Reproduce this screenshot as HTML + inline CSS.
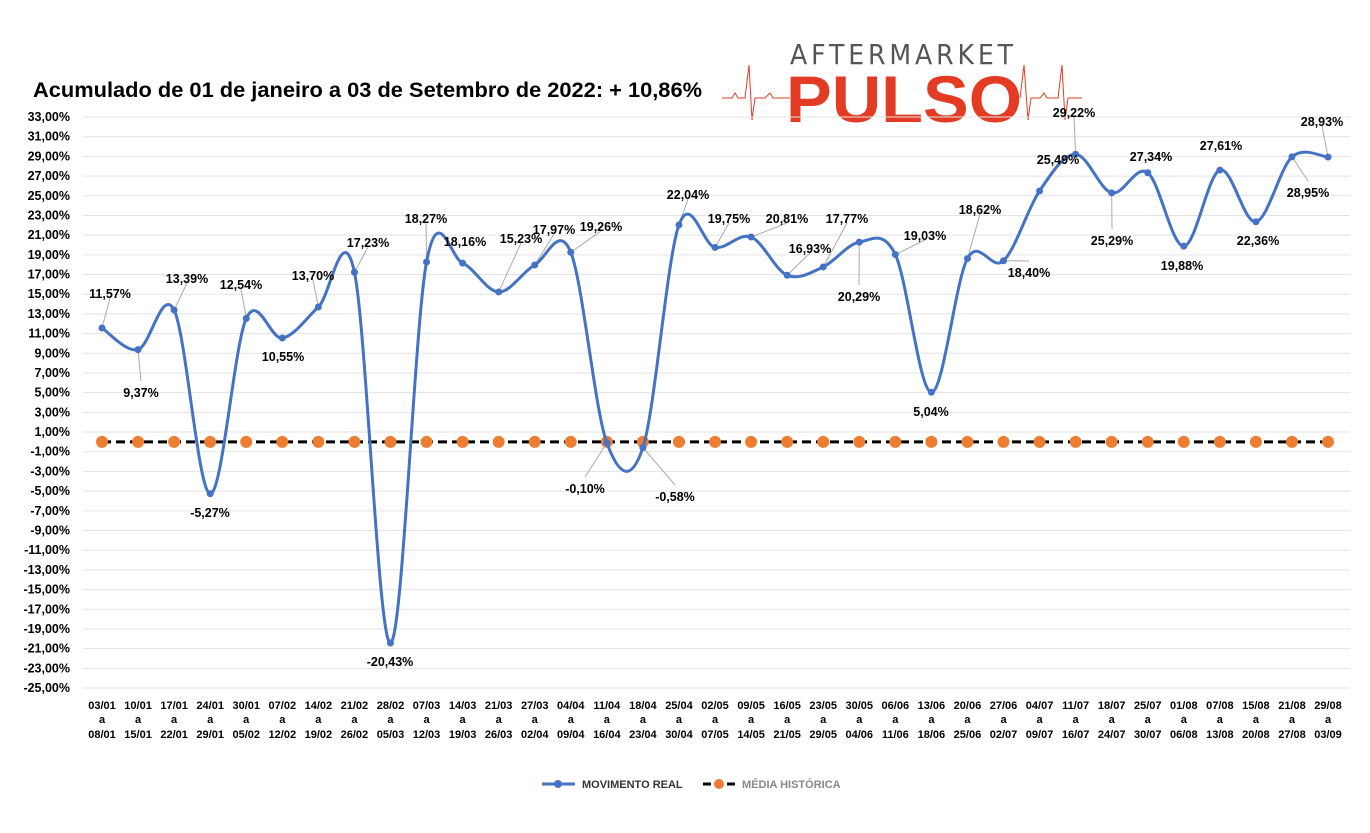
<!DOCTYPE html>
<html><head><meta charset="utf-8"><style>
body{margin:0;background:#fff;width:1370px;height:828px;overflow:hidden;font-family:"Liberation Sans",sans-serif}
</style></head><body>
<svg id="s" width="1370" height="828" xmlns="http://www.w3.org/2000/svg" font-family="Liberation Sans, sans-serif">
<rect width="1370" height="828" fill="#fff"/>
<text x="33" y="97" font-size="21" font-weight="bold" fill="#000" textLength="669" lengthAdjust="spacingAndGlyphs">Acumulado de 01 de janeiro a 03 de Setembro de 2022: + 10,86%</text>
<g>
<text x="790" y="64" font-size="28" fill="#555" textLength="223" lengthAdjust="spacing" font-family="DejaVu Sans Condensed, Liberation Sans, sans-serif">AFTERMARKET</text>
<polyline fill="none" stroke="#e33b24" stroke-width="1" points="722,98 732,98 735,93 738,98 745,98 749,65 752,120 755,98 765,98 770,93 773,98 790,98"/>
<polyline fill="none" stroke="#e33b24" stroke-width="1" points="1020,98 1024,65 1028,120 1031,98 1040,98 1044,93 1047,98 1058,98 1062,65 1065,120 1068,98 1082,98"/>
<text x="786" y="122" font-size="66" font-weight="bold" fill="#e33b24" textLength="236" lengthAdjust="spacingAndGlyphs">PULSO</text>
</g>
<g id="grid"></g>
<g id="ax"></g>
<g id="plot"></g>
<g font-size="11" font-weight="bold">
<line x1="542" y1="784" x2="575" y2="784" stroke="#4472c4" stroke-width="3"/><circle cx="558" cy="784" r="4" fill="#4472c4"/>
<text x="582" y="788" fill="#333">MOVIMENTO REAL</text>
<line x1="703" y1="784" x2="736" y2="784" stroke="#000" stroke-width="3" stroke-dasharray="8,4"/><circle cx="719" cy="784" r="5" fill="#ed7d31"/>
<text x="742" y="788" fill="#888">MÉDIA HISTÓRICA</text>
</g>
</svg>
<script>
const NS="http://www.w3.org/2000/svg";
function el(p,t,a,txt){const e=document.createElementNS(NS,t);for(const k in a)e.setAttribute(k,a[k]);if(txt!==undefined)e.textContent=txt;document.getElementById(p).appendChild(e);return e;}
const Y=v=>441.9-v*9.845;
for(let v=33;v>=-25;v-=2){const y=Y(v);el("grid","line",{x1:83,x2:1350,y1:y,y2:y,stroke:"#e3e3e3","stroke-width":1});
el("ax","text",{x:70,y:y+4,"text-anchor":"end","font-size":"12.5","font-weight":"bold",fill:"#000"},(v<0?"-":"")+Math.abs(v)+",00%");}
const d=[11.57,9.37,13.39,-5.27,12.54,10.55,13.70,17.23,-20.43,18.27,18.16,15.23,17.97,19.26,-0.10,-0.58,22.04,19.75,20.81,16.93,17.77,20.29,19.03,5.04,18.62,18.40,25.49,29.22,25.29,27.34,19.88,27.61,22.36,28.95,28.93];
const lab=[[110,294],[141,393],[187,279],[210,513],[241,285],[283,357],[313,276],[368,243],[390,662],[426,219],[465,242],[521,239],[554,230],[601,227],[585,489],[675,497],[688,195],[729,219],[787,219],[810,249],[847,219],[859,297],[925,236],[931,412],[980,210],[1029,273],[1058,160],[1074,113],[1112,241],[1151,157],[1182,266],[1221,146],[1258,241],[1308,193],[1322,122]];
const d1=["03/01","10/01","17/01","24/01","30/01","07/02","14/02","21/02","28/02","07/03","14/03","21/03","27/03","04/04","11/04","18/04","25/04","02/05","09/05","16/05","23/05","30/05","06/06","13/06","20/06","27/06","04/07","11/07","18/07","25/07","01/08","07/08","15/08","21/08","29/08"];
const d2=["08/01","15/01","22/01","29/01","05/02","12/02","19/02","26/02","05/03","12/03","19/03","26/03","02/04","09/04","16/04","23/04","30/04","07/05","14/05","21/05","29/05","04/06","11/06","18/06","25/06","02/07","09/07","16/07","24/07","30/07","06/08","13/08","20/08","27/08","03/09"];
const X=i=>102+i*36.06;
const P=d.map((v,i)=>[X(i),Y(v)]);
for(let i=0;i<35;i++){const x=X(i);
el("ax","text",{x:x,y:709,"text-anchor":"middle","font-size":"11","font-weight":"bold"},d1[i]);
el("ax","text",{x:x,y:723,"text-anchor":"middle","font-size":"11","font-weight":"bold"},"a");
el("ax","text",{x:x,y:738,"text-anchor":"middle","font-size":"11","font-weight":"bold"},d2[i]);}
el("plot","line",{x1:102,x2:1328,y1:Y(0),y2:Y(0),stroke:"#000","stroke-width":3,"stroke-dasharray":"9,5"});
for(let i=0;i<35;i++)el("plot","circle",{cx:X(i),cy:Y(0),r:6,fill:"#ed7d31"});
for(let i=0;i<35;i++){const [x,y]=P[i];const [lx,ly]=lab[i];const ty=ly<y?ly+4:ly-12;
if(Math.hypot(lx-x,ty-y)>22)el("plot","line",{x1:x,y1:y,x2:lx,y2:ty,stroke:"#aaa","stroke-width":1});}
let s="M"+P[0][0]+","+P[0][1];
for(let i=0;i<34;i++){const p0=P[Math.max(0,i-1)],p1=P[i],p2=P[i+1],p3=P[Math.min(34,i+2)];
const c1=[p1[0]+(p2[0]-p0[0])/6,p1[1]+(p2[1]-p0[1])/6],c2=[p2[0]-(p3[0]-p1[0])/6,p2[1]-(p3[1]-p1[1])/6];
s+=" C"+c1+" "+c2+" "+p2;}
el("plot","path",{d:s,fill:"none",stroke:"#4472c4","stroke-width":3});
for(const p of P)el("plot","circle",{cx:p[0],cy:p[1],r:3.5,fill:"#4472c4"});
for(let i=0;i<35;i++){const [lx,ly]=lab[i];const t=el("plot","text",{x:lx,y:ly,"text-anchor":"middle","font-size":"12.5","font-weight":"bold",fill:"#000"},d[i].toFixed(2).replace(".",",")+"%");t.setAttribute("dy","4");}
</script>
</body></html>
